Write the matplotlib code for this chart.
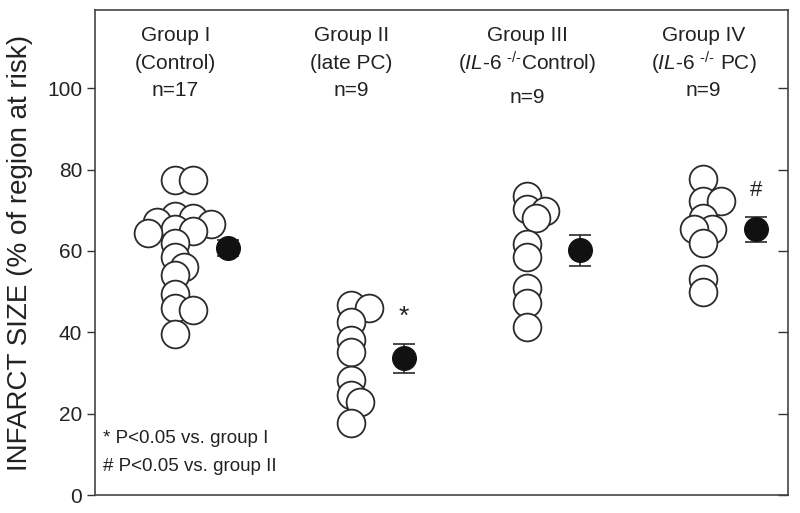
import numpy as np
import matplotlib
matplotlib.use('Agg')
from matplotlib import pyplot as plt

plt.rcParams['font.family'] = ['Liberation Sans', 'DejaVu Sans']
plt.rcParams['mathtext.fontset'] = 'custom'
plt.rcParams['mathtext.rm'] = 'Liberation Sans'
plt.rcParams['mathtext.it'] = 'Liberation Sans:italic'

# 各组数据
group1 = [77.5, 77.5, 68.5, 68, 67, 66.5, 65.5, 65, 64.5, 62, 58.5, 56, 54, 49.5, 46, 45.5, 39.5]
group2 = [46.8, 46, 42.6, 38.2, 35.2, 28.3, 24.6, 22.9, 17.7]
group3 = [73.4, 70.2, 69.7, 68, 61.6, 58.4, 51, 47.3, 41.4]
group4 = [77.6, 72.2, 72.2, 68, 65.3, 65.3, 62, 53, 50]
groups = [group1, group2, group3, group4]

means = [60.7, 33.6, 60.1, 65.3]
sems = [2.0, 3.6, 3.9, 3.1]

titles = ['Group I', 'Group II', 'Group III', 'Group IV']
sup = '$^{\u2010/\u2010}$'
subtitles = ['(Control)', '(late PC)',
             '($\\mathit{IL}$-$\\mathit{6}$ ' + sup + 'Control)',
             '($\\mathit{IL}$-$\\mathit{6}$ ' + sup + ' PC)']
n_labels = ['n=17', 'n=9', 'n=9', 'n=9']
marks = ['', '*', '', '#']

px_x = 176.0   # 每组间距（像素）
px_y = 4.07    # 每单位像素


def swarm(vals, min_d=11.0, step=9.0):
    # 简单的蜂群排布，允许部分重叠
    placed = []
    offs = []
    for v in vals:
        yp = v * px_y
        for k in range(40):
            c = step * ((k + 1) // 2) * (1 if k % 2 else -1)
            if all(np.hypot(c - xo, yp - yo) >= min_d for xo, yo in placed):
                break
        placed.append((c, yp))
        offs.append(c / px_x)
    return np.array(offs)


fig = plt.figure(figsize=(8, 5.13), dpi=100)
ax = fig.add_axes([0.119, 0.035, 0.866, 0.9455])

edge = '#2b2b2b'
for i, vals in enumerate(groups):
    xo = i + swarm(vals)
    ax.scatter(xo, vals, s=20 ** 2, facecolor='white', edgecolor=edge,
               linewidth=1.3, zorder=3)
    ax.errorbar(i + 0.3, means[i], yerr=sems[i], fmt='o', color='#111111',
                markersize=17, ecolor=edge, elinewidth=1.2, capsize=8,
                capthick=1.2, zorder=4)
    if marks[i]:
        ax.text(i + 0.3, means[i] + sems[i] + 6.5, marks[i], ha='center',
                va='center', fontsize=19 if marks[i] == '*' else 16,
                color='#222222')
    ax.text(i, 113, titles[i], ha='center', va='center', fontsize=15, color='#222222')
    ax.text(i, 106, subtitles[i], ha='center', va='center', fontsize=15, color='#222222')
    ax.text(i, 99.3 if i != 2 else 97.8, n_labels[i], ha='center', va='center',
            fontsize=15, color='#222222')

ax.text(-0.41, 13.9, '* P<0.05 vs. group I', fontsize=13.5, va='center', color='#222222')
ax.text(-0.41, 7.0, '# P<0.05 vs. group II', fontsize=13.5, va='center', color='#222222')

ax.set_xlim(-0.455, 3.48)
ax.set_ylim(0, 119.2)
ax.set_yticks(np.arange(0, 101, 20))
ax.set_xticks([])
ax.tick_params(axis='y', labelsize=15, direction='out', length=6, width=1,
               colors='#333333', labelcolor='#222222')
ax.tick_params(axis='y', which='both', right=True, labelright=False)
for t in ax.yaxis.get_major_ticks():
    t.tick2line.set_marker(matplotlib.lines.TICKLEFT)
    t.tick2line.set_markersize(7)
for s in ax.spines.values():
    s.set_color('#444444')
    s.set_linewidth(1.2)
ax.set_ylabel('INFARCT SIZE (% of region at risk)', fontsize=20, color='#222222',
              labelpad=10)

plt.savefig('out.png', dpi=100)
